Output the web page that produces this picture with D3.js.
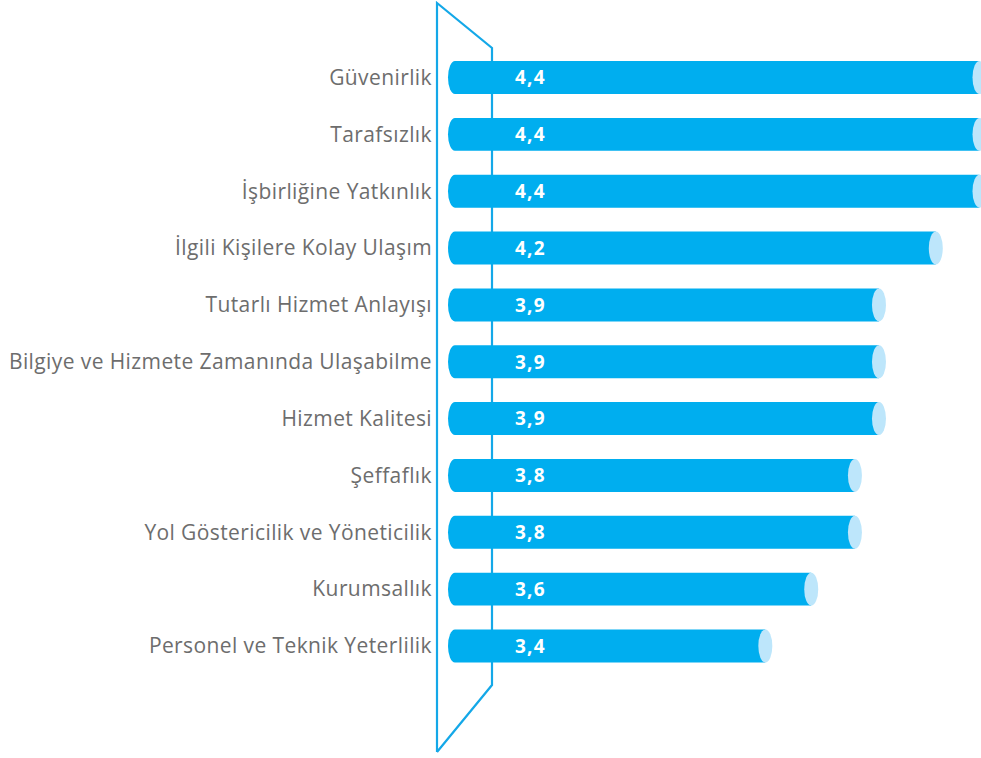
<!DOCTYPE html>
<html>
<head>
<meta charset="utf-8">
<script src="https://cdn.jsdelivr.net/npm/d3@7"></script>
<style>
  body { margin: 0; background: #fff; }
  svg { display: block; }
</style>
</head>
<body>
<svg width="981" height="758"></svg>
<script>
document.addEventListener('DOMContentLoaded', function() {

const categories = [
    "Güvenirlik",
    "Tarafsızlık",
    "İşbirliğine Yatkınlık",
    "İlgili Kişilere Kolay Ulaşım",
    "Tutarlı Hizmet Anlayışı",
    "Bilgiye ve Hizmete Zamanında Ulaşabilme",
    "Hizmet Kalitesi",
    "Şeffaflık",
    "Yol Göstericilik ve Yöneticilik",
    "Kurumsallık",
    "Personel ve Teknik Yeterlilik"
];
// estimated from bar ends, labels show one decimal
const values = [4.40, 4.40, 4.40, 4.20, 3.94, 3.94, 3.94, 3.83, 3.83, 3.63, 3.42];
const axisMin = 2;
const axisMax = 4.4;

const svg = d3.select("svg");

const barColor = "#00aeef";
const capColor = "#bde6fb";
const frameColor = "#14a8e8";

// layout
const wallLeft = 437, wallRight = 492;
const wallTop = 3, wallBottom = 752;
const innerTop = 48, innerBottom = 685;

const x = d3.scaleLinear()
    .domain([axisMin, axisMax])
    .range([455, 979.5]);

const y = d3.scaleBand()
    .domain(categories)
    .range([49.1, 674.4])
    .paddingInner(0.42)
    .paddingOuter(0.21);

const rx = 7;
const ry = y.bandwidth() / 2;

// 3d wall outline
svg.append("path")
    .attr("d", `M${wallLeft},${wallBottom}L${wallLeft},${wallTop}L${wallRight},${innerTop}L${wallRight},${innerBottom}L${wallLeft},${wallBottom}`)
    .attr("fill", "none")
    .attr("stroke", frameColor)
    .attr("stroke-width", 2.2);

const rows = svg.append("g").selectAll("g")
    .data(categories.map((c, i) => ({ name: c, value: values[i] })))
    .enter()
    .append("g");

// cylinder body with rounded back end
rows.append("path")
    .attr("fill", barColor)
    .attr("d", d => {
        const x0 = x(axisMin), x1 = x(d.value);
        const top = y(d.name), bot = y(d.name) + y.bandwidth();
        return `M${x0},${top}L${x1},${top}L${x1},${bot}L${x0},${bot}A${rx},${ry} 0 0 1 ${x0},${top}Z`;
    });

// light end cap
rows.append("ellipse")
    .attr("cx", d => x(d.value))
    .attr("cy", d => y(d.name) + ry)
    .attr("rx", rx)
    .attr("ry", ry)
    .attr("fill", capColor);

rows.append("text")
    .attr("x", 515)
    .attr("y", d => y(d.name) + ry)
    .attr("dy", "0.36em")
    .attr("fill", "#fff")
    .attr("font-family", "'Open Sans', sans-serif")
    .attr("font-weight", 700)
    .attr("font-size", "19px")
    .attr("letter-spacing", "1.2px")
    .text(d => d3.format(".1f")(d.value).replace(".", ","));

rows.append("text")
    .attr("x", 432)
    .attr("y", d => y(d.name) + ry)
    .attr("dy", "0.35em")
    .attr("text-anchor", "end")
    .attr("fill", "#6d6d6d")
    .attr("font-family", "'Open Sans', sans-serif")
    .attr("font-size", "21px")
    .attr("letter-spacing", "0.4px")
    .text(d => d.name);

});
</script>
</body>
</html>
